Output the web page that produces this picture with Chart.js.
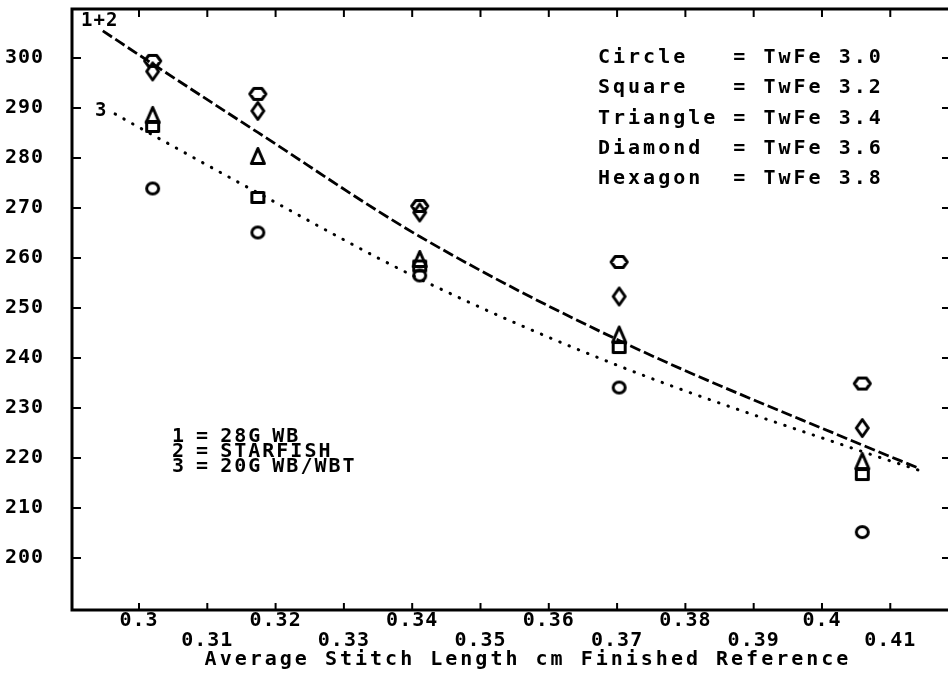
<!DOCTYPE html>
<html>
<head>
<meta charset="utf-8">
<script src="https://cdn.jsdelivr.net/npm/chart.js@4.4.1/dist/chart.umd.min.js"></script>
<style>
  html, body { margin: 0; padding: 0; overflow: hidden; background: #fff; }
  canvas { display: block; }
</style>
</head>
<body>
<canvas id="stitchChart" width="960" height="676"></canvas>
<script>
// values
const xValues = [0.302, 0.3174, 0.3411, 0.3703, 0.4059];

const markerNames = ['Circle', 'Square', 'Triangle', 'Diamond', 'Hexagon'];
const twfeLabels = ['TwFe 3.0', 'TwFe 3.2', 'TwFe 3.4', 'TwFe 3.6', 'TwFe 3.8'];

const circleY = [273.9, 265.1, 256.5, 234.1, 205.2];
const squareY = [286.3, 272.1, 258.4, 242.1, 216.7];
const triangleY = [288.6, 280.4, 259.8, 244.7, 219.4];
const diamondY = [297.3, 289.4, 269.1, 252.3, 226.0];
const hexagonY = [299.4, 292.8, 270.4, 259.2, 234.9];

// fitted curves (1+2 dashed, 3 dotted)
const fit12X = [0.2947, 0.302, 0.3174, 0.3411, 0.3703, 0.4059, 0.4141];
const fit12Y = [305.4, 298.8, 285.1, 264.3, 243.5, 222.6, 218.0];
const fit3X = [0.2965, 0.302, 0.3173, 0.3411, 0.3703, 0.4059, 0.4141];
const fit3Y = [288.8, 284.6, 273.1, 255.8, 238.4, 221.3, 217.6];

const curveLabels = ['1+2', '3'];
const groupLabels = ['1 = 28G WB', '2 = STARFISH', '3 = 20G WB/WBT'];

const xTickValues = [0.30, 0.31, 0.32, 0.33, 0.34, 0.35, 0.36, 0.37, 0.38, 0.39, 0.40, 0.41];
const xTickLabels = ['0.3', '0.31', '0.32', '0.33', '0.34', '0.35', '0.36', '0.37', '0.38', '0.39', '0.4', '0.41'];
const yTickValues = [200, 210, 220, 230, 240, 250, 260, 270, 280, 290, 300];
const xTitle = 'Average Stitch Length cm Finished Reference';

const ink = '#000';
const mono = "'DejaVu Sans Mono', 'Liberation Mono', monospace";

// outline markers drawn on small canvases
function marker(ow, oh, path) {
  const c = document.createElement('canvas');
  c.width = Math.ceil(ow) + 4;
  c.height = Math.ceil(oh) + 4;
  const g = c.getContext('2d');
  const lw = 3;
  const w = ow - lw, h = oh - lw;
  const l = (c.width - w) / 2, t = (c.height - h) / 2;
  g.strokeStyle = ink;
  g.lineWidth = lw;
  g.lineJoin = 'round';
  g.beginPath();
  path(g, l, t, w, h);
  g.closePath();
  g.stroke();
  return c;
}

const markers = [
  marker(15, 14, (g, l, t, w, h) => g.ellipse(l + w / 2, t + h / 2, w / 2, h / 2, 0, 0, Math.PI * 2)),
  marker(15, 13, (g, l, t, w, h) => g.rect(l, t, w, h)),
  marker(16, 18, (g, l, t, w, h) => { g.moveTo(l + w / 2, t); g.lineTo(l + w, t + h); g.lineTo(l, t + h); }),
  marker(15, 20, (g, l, t, w, h) => { g.moveTo(l + w / 2, t); g.lineTo(l + w, t + h / 2); g.lineTo(l + w / 2, t + h); g.lineTo(l, t + h / 2); }),
  marker(19, 14, (g, l, t, w, h) => {
    g.moveTo(l + w * 0.25, t); g.lineTo(l + w * 0.75, t); g.lineTo(l + w, t + h / 2);
    g.lineTo(l + w * 0.75, t + h); g.lineTo(l + w * 0.25, t + h); g.lineTo(l, t + h / 2);
  }),
];

const seriesY = [circleY, squareY, triangleY, diamondY, hexagonY];

const pointSets = seriesY.map((ys, i) => ({
  type: 'scatter',
  label: twfeLabels[i],
  data: xValues.map((x, j) => ({x: x, y: ys[j]})),
  pointStyle: markers[i],
  pointRadius: 8,
  showLine: false,
}));

const curveSets = [
  {
    type: 'line',
    label: curveLabels[0],
    data: fit12X.map((x, j) => ({x: x, y: fit12Y[j]})),
    borderColor: ink,
    borderWidth: 2.8,
    borderDash: [11, 4],
    pointRadius: 0,
    cubicInterpolationMode: 'monotone',
    fill: false,
  },
  {
    type: 'line',
    label: curveLabels[1],
    data: fit3X.map((x, j) => ({x: x, y: fit3Y[j]})),
    borderColor: ink,
    borderWidth: 3,
    borderDash: [0.5, 9.5],
    borderCapStyle: 'round',
    pointRadius: 0,
    cubicInterpolationMode: 'monotone',
    fill: false,
  },
];

const framePlugin = {
  id: 'frame',
  beforeDraw(chart) {
    // tick labels: a little extra tracking like the plotter font
    chart.ctx.letterSpacing = '1px';
  },
  afterDraw(chart) {
    const {ctx, chartArea: a, scales: {x, y}} = chart;
    ctx.save();
    ctx.strokeStyle = ink;
    ctx.lineWidth = 3;
    ctx.strokeRect(a.left, a.top, a.right - a.left, a.bottom - a.top);

    ctx.lineWidth = 2;
    ctx.beginPath();
    x.ticks.forEach(t => {
      const px = x.getPixelForValue(t.value);
      ctx.moveTo(px, a.bottom); ctx.lineTo(px, a.bottom - 7);
      ctx.moveTo(px, a.top); ctx.lineTo(px, a.top + 8);
    });
    y.ticks.forEach(t => {
      const py = y.getPixelForValue(t.value);
      ctx.moveTo(a.left, py); ctx.lineTo(a.left + 9, py);
      ctx.moveTo(a.right, py); ctx.lineTo(a.right - 9, py);
    });
    ctx.stroke();

    ctx.fillStyle = ink;
    ctx.textBaseline = 'middle';
    ctx.font = 'bold 20px ' + mono;
    ctx.letterSpacing = '3px';

    // marker key, top right
    ctx.textAlign = 'left';
    markerNames.forEach((name, i) => {
      ctx.fillText(name.padEnd(9) + '= ' + twfeLabels[i], 598, 58 + i * 30.2);
    });

    // x title
    ctx.textAlign = 'center';
    ctx.fillText(xTitle, 528, 660);

    // group key, lower left
    ctx.textAlign = 'left';
    ctx.letterSpacing = '2px';
    ctx.wordSpacing = '-4px';
    groupLabels.forEach((s, i) => ctx.fillText(s, 172, 437 + i * 15));
    ctx.wordSpacing = '0px';

    // curve labels
    ctx.font = 'bold 19px ' + mono;
    ctx.letterSpacing = '1px';
    ctx.fillText(curveLabels[0], 81, 21);
    ctx.fillText(curveLabels[1], 95, 111);

    ctx.restore();
    ctx.letterSpacing = '0px';
  }
};

new Chart(document.getElementById('stitchChart'), {
  data: {datasets: [...pointSets, ...curveSets]},
  options: {
    responsive: false,
    animation: false,
    layout: {padding: {top: 8, right: 9, left: 0, bottom: 0}},
    plugins: {legend: {display: false}, tooltip: {enabled: false}},
    scales: {
      x: {
        type: 'linear',
        min: 0.29019,
        max: 0.41889,
        grid: {display: false, drawTicks: false},
        border: {display: false},
        afterBuildTicks: s => { s.ticks = xTickValues.map(v => ({value: v})); },
        afterFit: s => { s.height = 66; s.paddingLeft = 0; s.paddingRight = 0; },
        ticks: {
          autoSkip: false,
          maxRotation: 0,
          minRotation: 0,
          padding: 1,
          color: ink,
          font: {family: mono, size: 20, weight: 'bold', lineHeight: 1},
          callback: (v, i) => (i % 2 === 0 ? xTickLabels[i] : ['', xTickLabels[i]]),
        },
      },
      y: {
        type: 'linear',
        min: 189.62,
        max: 309.78,
        grid: {display: false, drawTicks: false},
        border: {display: false},
        afterBuildTicks: s => { s.ticks = yTickValues.map(v => ({value: v})); },
        afterFit: s => { s.width = 72; s.paddingTop = 0; s.paddingBottom = 0; },
        ticks: {
          padding: 28,
          color: ink,
          font: {family: mono, size: 20, weight: 'bold'},
          callback: v => String(v),
        },
      },
    },
  },
  plugins: [framePlugin],
});
</script>
</body>
</html>
